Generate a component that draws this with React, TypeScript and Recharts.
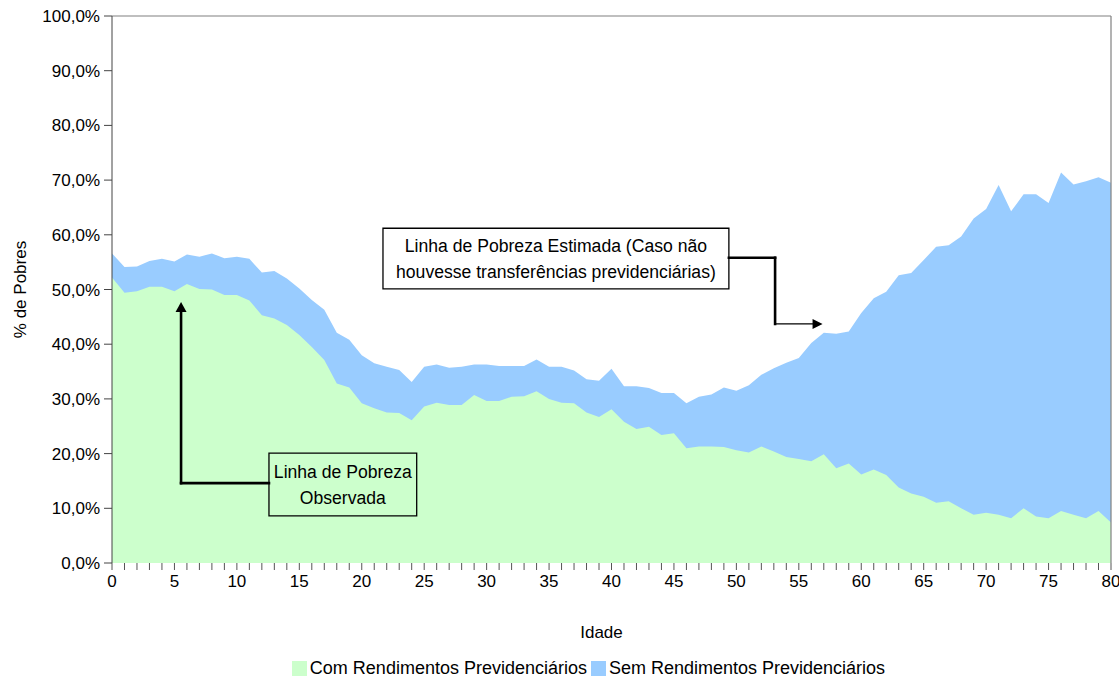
import React from 'react';
import {
  AreaChart, Area, XAxis, YAxis, Legend, ReferenceLine, ReferenceArea, ReferenceDot,
} from 'recharts';

const ages: number[] = Array.from({ length: 81 }, (_, i) => i);

const semRendimentos: number[] = [
  56.6, 54.1, 54.2, 55.2, 55.6, 55.1, 56.4, 56.0, 56.6, 55.7,
  56.0, 55.6, 53.1, 53.4, 52.0, 50.2, 48.1, 46.3, 42.1, 40.8,
  38.0, 36.5, 35.9, 35.3, 33.1, 35.9, 36.3, 35.7, 35.9, 36.3,
  36.3, 36.0, 36.0, 36.0, 37.2, 35.9, 35.9, 35.2, 33.6, 33.3,
  35.5, 32.3, 32.3, 32.0, 31.1, 31.1, 29.2, 30.4, 30.8, 32.1,
  31.5, 32.5, 34.4, 35.6, 36.6, 37.5, 40.2, 42.1, 41.9, 42.3,
  45.7, 48.4, 49.6, 52.6, 53.0, 55.4, 57.8, 58.1, 59.7, 63.0,
  64.7, 69.1, 64.3, 67.4, 67.4, 65.8, 71.4, 69.2, 69.8, 70.5,
  69.5,
];

const comRendimentos: number[] = [
  52.2, 49.4, 49.7, 50.5, 50.5, 49.7, 51.0, 50.1, 50.0, 49.0,
  49.0, 48.0, 45.3, 44.7, 43.5, 41.7, 39.5, 37.1, 32.8, 32.1,
  29.2, 28.3, 27.5, 27.4, 26.1, 28.6, 29.3, 28.9, 28.9, 30.7,
  29.6, 29.6, 30.4, 30.5, 31.4, 30.0, 29.3, 29.2, 27.5, 26.7,
  28.1, 25.8, 24.5, 24.9, 23.4, 23.7, 21.0, 21.3, 21.3, 21.2,
  20.6, 20.2, 21.3, 20.4, 19.4, 19.0, 18.6, 19.9, 17.3, 18.2,
  16.2, 17.1, 16.1, 13.8, 12.7, 12.1, 11.0, 11.3, 10.0, 8.8,
  9.2, 8.8, 8.2, 10.0, 8.5, 8.2, 9.5, 8.8, 8.2, 9.5,
  7.4,
];

const yTicks: number[] = [0, 10, 20, 30, 40, 50, 60, 70, 80, 90, 100];

const seriesNames = {
  com: 'Com Rendimentos Previdenciários',
  sem: 'Sem Rendimentos Previdenciários',
};

const annotationEstimada: string[] = ['Linha de Pobreza Estimada (Caso não', 'houvesse transferências previdenciárias)'];
const annotationObservada: string[] = ['Linha de Pobreza', 'Observada'];

const data = ages.map((age, i) => ({ age, com: comRendimentos[i], sem: semRendimentos[i] }));

const FONT = '"Liberation Sans", Arial, sans-serif';
const GREEN = '#CCFFCC';
const BLUE = '#99CCFF';

const BoxLabel = (props: any) => {
  const { viewBox, lines } = props;
  if (!viewBox) return null;
  const cx = viewBox.x + viewBox.width / 2;
  const cy = viewBox.y + viewBox.height / 2;
  const gap = 26;
  return (
    <text x={cx} textAnchor="middle" fontFamily={FONT} fontSize={17.6} fill="#000">
      {lines.map((l: string, i: number) => (
        <tspan key={i} x={cx} y={cy + (i - (lines.length - 1) / 2) * gap} dy="0.36em">{l}</tspan>
      ))}
    </text>
  );
};

const arrowRight = (p: any) => (
  <polygon points={`${p.cx},${p.cy} ${p.cx - 10},${p.cy - 5} ${p.cx - 10},${p.cy + 5}`} fill="#000" />
);
const arrowUp = (p: any) => (
  <polygon points={`${p.cx},${p.cy} ${p.cx - 5.5},${p.cy + 10} ${p.cx + 5.5},${p.cy + 10}`} fill="#000" />
);

const LegendContent = () => (
  <div style={{ display: 'flex', justifyContent: 'center', alignItems: 'center', paddingLeft: 58, paddingTop: 5, fontFamily: FONT, fontSize: 18, color: '#000' }}>
    <span style={{ width: 15, height: 15, background: GREEN, display: 'inline-block', marginRight: 3 }} />
    <span style={{ marginRight: 4 }}>{seriesNames.com}</span>
    <span style={{ width: 15, height: 15, background: BLUE, display: 'inline-block', marginRight: 3 }} />
    <span>{seriesNames.sem}</span>
  </div>
);

export default function App() {
  return (
    <div style={{ position: 'absolute', left: 0, top: 0, width: 1119, height: 677, background: '#fff' }}>
      <AreaChart
        width={1119}
        height={677}
        data={data}
        margin={{ top: 16, right: 8, left: 0, bottom: 0 }}
        style={{ fontFamily: FONT }}
      >
        <XAxis
          dataKey="age"
          type="number"
          domain={[0, 80]}
          ticks={ages}
          interval={0}
          tickFormatter={(v: number) => (v % 5 === 0 ? String(v) : '')}
          height={90}
          axisLine={false}
          tickLine={{ stroke: '#555' }}
          tickSize={7}
          tickMargin={5}
          tick={{ fill: '#000', fontSize: 17, fontFamily: FONT }}
          label={{ value: 'Idade', position: 'insideBottom', offset: 15, dx: -10, fill: '#000', fontSize: 17, fontFamily: FONT }}
        />
        <YAxis
          type="number"
          domain={[0, 100]}
          ticks={yTicks}
          width={112}
          axisLine={{ stroke: '#444' }}
          tickLine={{ stroke: '#444' }}
          tickSize={8}
          tickMargin={4}
          tickFormatter={(v: number) => `${v.toFixed(1).replace('.', ',')}%`}
          tick={{ fill: '#000', fontSize: 17, fontFamily: FONT }}
          label={{ value: '% de Pobres', angle: -90, position: 'insideLeft', offset: 20, fill: '#000', fontSize: 17, fontFamily: FONT, style: { textAnchor: 'middle' } }}
        />
        <Legend verticalAlign="bottom" height={24} content={<LegendContent />} wrapperStyle={{ left: 0, width: 1119 }} />
        <Area type="linear" dataKey="sem" name={seriesNames.sem} fill={BLUE} fillOpacity={1} stroke="none" isAnimationActive={false} dot={false} activeDot={false} />
        <Area type="linear" dataKey="com" name={seriesNames.com} fill={GREEN} fillOpacity={1} stroke="none" isAnimationActive={false} dot={false} activeDot={false} />
        <ReferenceLine y={100} stroke="#808080" strokeWidth={1.2} />
        <ReferenceLine x={80} stroke="#808080" strokeWidth={1.2} />

        <ReferenceArea x1={21.7} x2={49.4} y1={50.1} y2={61.2} fill="#fff" fillOpacity={1} stroke="#000" strokeWidth={1.3}
          label={<BoxLabel lines={annotationEstimada} />} />
        <ReferenceLine segment={[{ x: 49.4, y: 55.8 }, { x: 53.1, y: 55.8 }]} stroke="#000" strokeWidth={2.6} strokeLinecap="square" />
        <ReferenceLine segment={[{ x: 53.1, y: 55.8 }, { x: 53.1, y: 43.7 }]} stroke="#000" strokeWidth={2.6} strokeLinecap="square" />
        <ReferenceLine segment={[{ x: 53.1, y: 43.7 }, { x: 56.3, y: 43.7 }]} stroke="#000" strokeWidth={1.3} />
        <ReferenceDot x={56.9} y={43.7} r={5} shape={arrowRight} />

        <ReferenceArea x1={12.57} x2={24.4} y1={8.6} y2={20.1} fill="none" stroke="#000" strokeWidth={1.3}
          label={<BoxLabel lines={annotationObservada} />} />
        <ReferenceLine segment={[{ x: 12.57, y: 14.6 }, { x: 5.53, y: 14.6 }]} stroke="#000" strokeWidth={2.6} strokeLinecap="square" />
        <ReferenceLine segment={[{ x: 5.53, y: 14.6 }, { x: 5.53, y: 46.5 }]} stroke="#000" strokeWidth={2.6} strokeLinecap="square" />
        <ReferenceDot x={5.53} y={47.7} r={5} shape={arrowUp} />
      </AreaChart>
    </div>
  );
}
